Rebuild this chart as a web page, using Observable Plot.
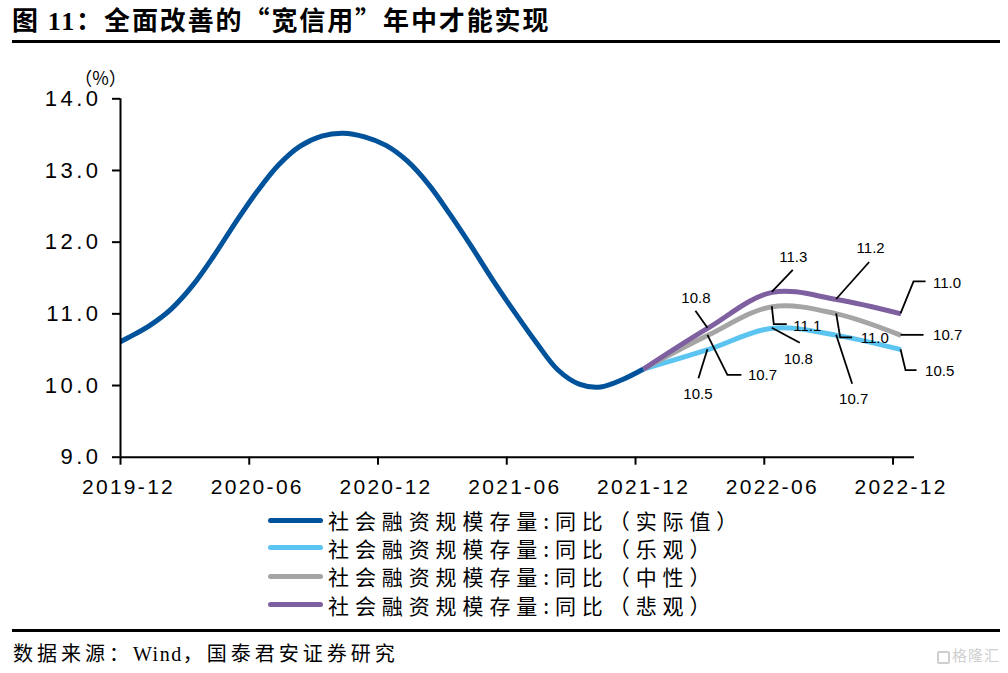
<!DOCTYPE html>
<html>
<head>
<meta charset="utf-8">
<script src="https://cdn.jsdelivr.net/npm/d3@7"></script>
<script src="https://cdn.jsdelivr.net/npm/@observablehq/plot@0.6"></script>
<style>
  body { margin: 0; background: #fff; }
  #wrap { position: relative; width: 1008px; height: 673px; overflow: hidden; font-family: "Noto Sans CJK SC", sans-serif; color: #000; }
  #title { position: absolute; left: 12px; top: 3px; font-size: 26px; line-height: 32px; font-weight: 700; letter-spacing: 1.9px; white-space: nowrap; }
  #title .num { font-family: "Liberation Serif", serif; font-weight: 700; }
  .hr { position: absolute; left: 12px; width: 988px; background: #000; }
  #chart { position: absolute; left: 0; top: 50px; }
  .lg { position: absolute; left: 268px; height: 28px; white-space: nowrap; }
  .lg .sw { position: absolute; left: 0; top: 11.5px; width: 55px; height: 5px; border-radius: 2.5px; }
  .lg .tx { position: absolute; left: 60px; top: 0; font-size: 21px; line-height: 28px; letter-spacing: 5.9px; }
  #source { position: absolute; left: 13px; top: 640px; font-size: 20px; line-height: 26px; letter-spacing: 4px; white-space: nowrap; }
  #source .w { font-family: "Liberation Serif", serif; letter-spacing: 1.5px; }
  #wm { position: absolute; right: 8px; top: 645px; font-size: 15px; line-height: 20px; color: #cfcfcf; letter-spacing: 1px; }
  #wm .g { display: inline-block; width: 13px; height: 13px; border: 2px solid #cfcfcf; border-radius: 2px; vertical-align: -3px; margin-right: 2px; box-sizing: border-box; }
</style>
</head>
<body>
<div id="wrap">
  <div id="title">图 <span class="num">11</span>：全面改善的“宽信用”年中才能实现</div>
  <div class="hr" style="top:40px;height:3px"></div>
  <div id="chart"></div>
  <div id="legend"></div>
  <div class="hr" style="top:629px;height:2.5px"></div>
  <div id="source">数据来源：<span class="w">Wind</span>，国泰君安证券研究</div>
  <div id="wm"><span class="g"></span>格隆汇</div>
</div>
<script>
// ---------- data ----------
const actualMonths = ["2019-11","2019-12","2020-01","2020-02","2020-03","2020-04","2020-05","2020-06","2020-07","2020-08","2020-09","2020-10","2020-11","2020-12","2021-01","2021-02","2021-03","2021-04","2021-05","2021-06","2021-07","2021-08","2021-09","2021-10","2021-11","2021-12"];
const actualValues = [10.52,10.67,10.84,11.07,11.40,11.82,12.28,12.71,13.08,13.34,13.48,13.52,13.47,13.35,13.13,12.80,12.38,11.93,11.46,11.02,10.60,10.22,10.02,9.98,10.08,10.23];

const scenarioMonths = ["2021-12","2022-03","2022-06","2022-09","2022-12"];
const optimisticValues  = [10.23,10.5,10.8,10.7,10.5];
const neutralValues     = [10.23,10.7,11.1,11.0,10.7];
const pessimisticValues = [10.23,10.8,11.3,11.2,11.0];

const seriesNames = [
  "社会融资规模存量:同比（实际值）",
  "社会融资规模存量:同比（乐观）",
  "社会融资规模存量:同比（中性）",
  "社会融资规模存量:同比（悲观）"
];
const xTickLabels = ["2019-12","2020-06","2020-12","2021-06","2021-12","2022-06","2022-12"];
const yTicks = [9,10,11,12,13,14];
const yUnit = "（%）";

// ---------- styles / layout ----------
const colors = {actual: "#00529b", optimistic: "#5bc4f1", neutral: "#a5a5a5", pessimistic: "#7e60a0"};
const DX = 8; // data sits mid-month, ticks at month start
const axisFont = "'Liberation Sans', Arial, sans-serif";

// month string -> month index from 2019-12
const mIndex = s => { const [y, m] = s.split("-").map(Number); return (y - 2019) * 12 + (m - 12); };
const xTickValues = xTickLabels.map(mIndex);

const actual = actualMonths.map((m, i) => ({m: mIndex(m), v: actualValues[i]}));
const scen = {
  optimistic: scenarioMonths.map((m, i) => ({m: mIndex(m), v: optimisticValues[i]})),
  neutral: scenarioMonths.map((m, i) => ({m: mIndex(m), v: neutralValues[i]})),
  pessimistic: scenarioMonths.map((m, i) => ({m: mIndex(m), v: pessimisticValues[i]}))
};

// callout layout (pixel offsets from the data point)
const callouts = [
  {s: "pessimistic", i: 1, path: [[0,0],[-12,-17]], label: [-12,-30], anchor: "middle"},
  {s: "neutral",     i: 1, path: [[0,0],[20,40],[34,40]], label: [40,40], anchor: "start"},
  {s: "optimistic",  i: 1, path: [[0,0],[-9,29]], label: [-10,45], anchor: "middle"},
  {s: "pessimistic", i: 2, path: [[0,0],[21,-22]], label: [21,-35], anchor: "middle"},
  {s: "neutral",     i: 2, path: [[0,0],[2,18],[15,18]], label: [21,20], anchor: "start"},
  {s: "optimistic",  i: 2, path: [[0,0],[28,15]], label: [26,31], anchor: "middle"},
  {s: "pessimistic", i: 3, path: [[0,0],[33,-37]], label: [34,-51], anchor: "middle"},
  {s: "neutral",     i: 3, path: [[0,0],[4,24],[16,24]], label: [24,24], anchor: "start"},
  {s: "optimistic",  i: 3, path: [[0,0],[16,49]], label: [17,64], anchor: "middle"},
  {s: "pessimistic", i: 4, path: [[0,0],[13,-32],[25,-32]], label: [32,-31], anchor: "start"},
  {s: "neutral",     i: 4, path: [[0,0],[23,0]], label: [32,0], anchor: "start"},
  {s: "optimistic",  i: 4, path: [[0,0],[5,21],[16,21]], label: [24,22], anchor: "start"}
];

const leaderMark = (index, scales) => {
  const g = d3.create("svg:g");
  for (const c of callouts) {
    const d = scen[c.s][c.i];
    const px = scales.x(d.m) + DX, py = scales.y(d.v);
    g.append("path")
      .attr("d", d3.line()(c.path.map(([a, b]) => [px + a, py + b])))
      .attr("fill", "none").attr("stroke", "#000").attr("stroke-width", 1.8);
  }
  return g.node();
};

const calloutTexts = callouts.map(c => Plot.text([scen[c.s][c.i]], {
  x: "m", y: "v", text: d => d.v.toFixed(1),
  dx: DX + c.label[0], dy: c.label[1], textAnchor: c.anchor,
  fontSize: 15, fill: "#000", ariaLabel: "callout"
}));

const lineOpts = (color) => ({x: "m", y: "v", stroke: color, strokeWidth: 5, curve: "catmull-rom", dx: DX, clip: true, strokeLinecap: "butt"});

const chart = Plot.plot({
  width: 1008,
  height: 455,
  marginLeft: 120,
  marginRight: 94,
  marginTop: 48.3,
  marginBottom: 48.3,
  style: {fontFamily: axisFont, fontSize: "21px", color: "#000", background: "transparent", overflow: "visible"},
  x: {domain: [0, 37]},
  y: {domain: [9, 14]},
  marks: [
    Plot.line(actual, lineOpts(colors.actual)),
    Plot.line(scen.optimistic, lineOpts(colors.optimistic)),
    Plot.line(scen.neutral, lineOpts(colors.neutral)),
    Plot.line(scen.pessimistic, lineOpts(colors.pessimistic)),
    leaderMark,
    ...calloutTexts,
    Plot.ruleX([0], {stroke: "#000", strokeWidth: 2}),
    Plot.ruleY([9], {stroke: "#000", strokeWidth: 2}),
    Plot.axisY({ticks: yTicks, tickSize: 8, tickPadding: 11, tickFormat: d => d.toFixed(1), strokeWidth: 2, label: null}),
    Plot.axisX({ticks: xTickValues, tickSize: 8, tickFormat: () => "", strokeWidth: 2, label: null}),
    Plot.axisX({ticks: xTickValues, tickSize: 0, tickPadding: 22, dx: DX, tickFormat: d => xTickLabels[xTickValues.indexOf(d)], label: null}),
    Plot.text([yUnit], {frameAnchor: "top-left", textAnchor: "middle", text: d => d, dx: -20, dy: -27, fontSize: 18, fontFamily: "'Noto Sans CJK SC', sans-serif", ariaLabel: "unit"})
  ]
});
document.getElementById("chart").appendChild(chart);

d3.select(chart).selectAll('g[aria-label="y-axis tick label"] text').style("font-size", "22px").style("letter-spacing", "3.5px");
d3.select(chart).selectAll('g[aria-label="x-axis tick label"] text').style("letter-spacing", "2.3px");
d3.select(chart).selectAll('g[aria-label="callout"] text').style("letter-spacing", "1.5px");
d3.select(chart).selectAll('g[aria-label="unit"] text').style("letter-spacing", "1px");

// legend
const legendColors = [colors.actual, colors.optimistic, colors.neutral, colors.pessimistic];
const legendTops = [506, 533.5, 562, 590.5];
const lg = d3.select("#legend");
seriesNames.forEach((name, i) => {
  const row = lg.append("div").attr("class", "lg").style("top", legendTops[i] + "px");
  row.append("div").attr("class", "sw").style("background", legendColors[i]);
  row.append("div").attr("class", "tx").text(name);
});
</script>
</body>
</html>
